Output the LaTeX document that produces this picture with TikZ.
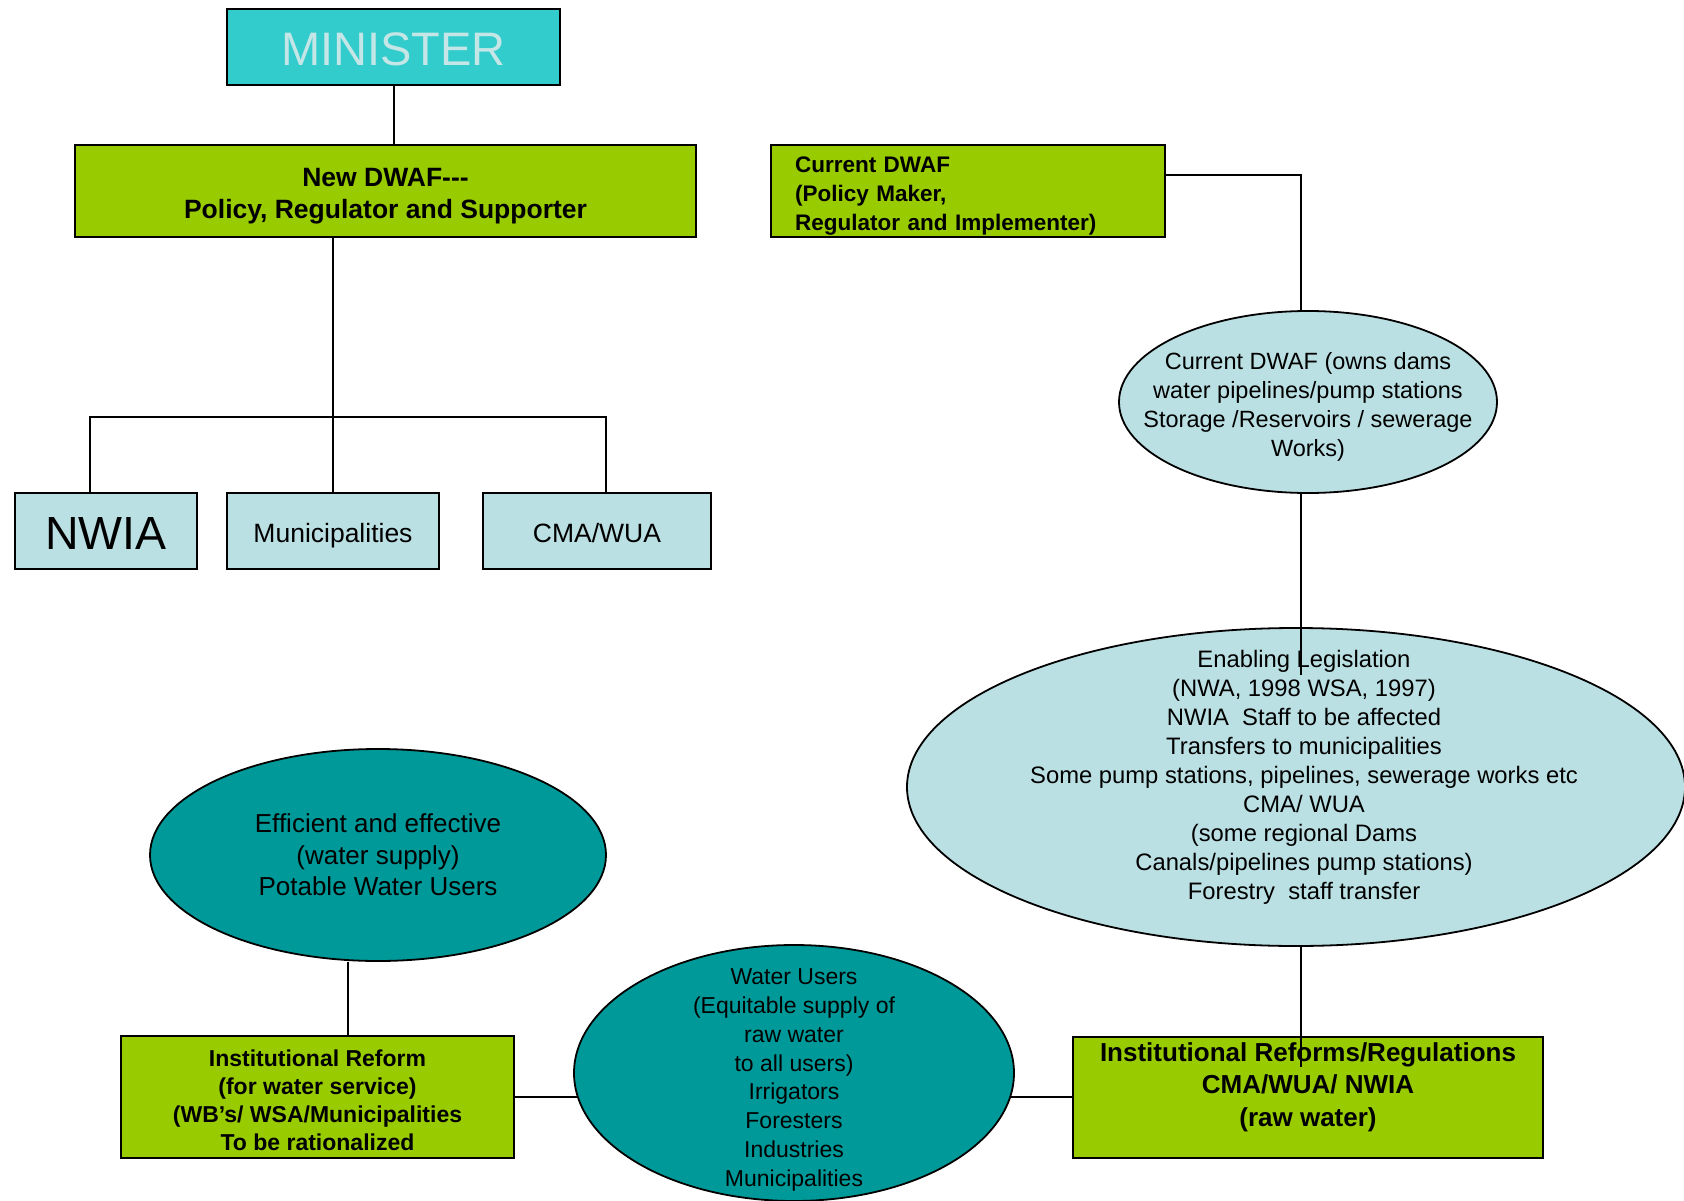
\documentclass[tikz,border=0pt]{standalone}
\usepackage{fontspec}
\setmainfont{Liberation Sans}
\usetikzlibrary{positioning,shapes.geometric}

\definecolor{minteal}{HTML}{33CCCC}
\definecolor{mintext}{HTML}{C4E6E6}
\definecolor{dwafgreen}{HTML}{99CC00}
\definecolor{paleblue}{HTML}{BBE0E3}
\definecolor{deepteal}{HTML}{009999}

\tikzset{
  box/.style={draw, line width=2pt, rectangle, inner sep=0pt, align=center},
  greenbox/.style={box, fill=dwafgreen},
  bluebox/.style={box, fill=paleblue, minimum height=76pt},
  oval/.style={draw, line width=1.8pt, ellipse, inner sep=0pt},
  ovaltext/.style={align=center, inner sep=0pt},
  link/.style={line width=2pt},
}

\begin{document}
\begin{tikzpicture}[x=1pt,y=-1pt]
  \useasboundingbox (0,0) rectangle (1684,1201);

  \node[box, fill=minteal, minimum width=333pt, minimum height=76pt,
        label={[ovaltext, text=mintext, yshift=-2pt, font=\fontsize{47}{50}\selectfont]center:MINISTER}]
        (minister) at (393.5,47) {};
  \node[greenbox, minimum width=621pt, minimum height=92pt,
        label={[ovaltext, yshift=-5pt, font=\bfseries\fontsize{26.5}{32}\selectfont]center:{New DWAF\mbox{-}\mbox{-}\mbox{-}\\Policy, Regulator and Supporter}}]
        (newdwaf) at (385.5,191) {};

  \node[bluebox, minimum width=182pt,
        label={[ovaltext, yshift=-3pt, font=\fontsize{46.5}{50}\selectfont]center:NWIA}] (nwia) at (106,531) {};
  \node[bluebox, minimum width=212pt,
        label={[ovaltext, yshift=-5pt, font=\fontsize{26.5}{30}\selectfont]center:Municipalities}] (munic) [right=28pt of nwia] {};
  \node[bluebox, minimum width=228pt,
        label={[ovaltext, yshift=-2pt, font=\fontsize{26.5}{30}\selectfont]center:CMA/WUA}] (cmawua) [right=42pt of munic] {};

  \node[greenbox, minimum width=394pt, minimum height=92pt,
        label={[ovaltext, align=left, text width=346pt, yshift=-5pt, font=\bfseries\fontsize{22.5}{29}\selectfont]center:{Current DWAF\\(Policy Maker,\\Regulator and Implementer)}}]
        (curdwaf) at (968,191) {};

  \node[oval, fill=paleblue, minimum width=378pt, minimum height=182pt,
        label={[ovaltext, yshift=-5pt, font=\fontsize{23.5}{29}\selectfont]center:{Current DWAF (owns dams\\water pipelines/pump stations\\Storage /Reservoirs / sewerage\\Works)}}]
        (owns) at (1308,402) {};

  \node[oval, fill=paleblue, minimum width=778pt, minimum height=318pt,
        label={[ovaltext, xshift=8pt, yshift=10pt, font=\fontsize{23.8}{29}\selectfont]center:{Enabling Legislation\\(NWA, 1998 WSA, 1997)\\NWIA\ \ Staff to be affected\\Transfers to municipalities\\Some pump stations, pipelines, sewerage works etc\\CMA/ WUA\\(some regional Dams\\Canals/pipelines pump stations)\\Forestry\ \ staff transfer}}]
        (legis) at (1296,787) {};

  \node[oval, fill=deepteal, minimum width=456pt, minimum height=212pt,
        label={[ovaltext, font=\fontsize{26}{31.5}\selectfont]center:{Efficient and effective\\(water supply)\\Potable Water Users}}]
        (efficient) at (378,855) {};

  \node[greenbox, minimum width=393pt, minimum height=122pt,
        label={[ovaltext, yshift=-3pt, font=\bfseries\fontsize{23}{28}\selectfont]center:{Institutional Reform\\(for water service)\\(WB’s/ WSA/Municipalities\\To be rationalized}}]
        (irleft) at (317.5,1097) {};

  \node[oval, fill=deepteal, minimum width=440pt, minimum height=256pt,
        label={[ovaltext, yshift=-7pt, font=\fontsize{23}{28.8}\selectfont]center:{Water Users\\(Equitable supply of\\raw water\\to all users)\\Irrigators\\Foresters\\Industries\\Municipalities}}]
        (wu) at (794,1073) {};

  \node[greenbox, minimum width=470pt, minimum height=121pt,
        label={[ovaltext, yshift=10pt, font=\bfseries\fontsize{26}{32.5}\selectfont]center:{Institutional Reforms/Regulations\\CMA/WUA/ NWIA\\(raw water)}}]
        (irright) at (1308,1097) {};

  % connectors
  \coordinate (bus) at (333,417);
  \coordinate (ownsend) at (1301,675);
  \coordinate (legisend) at (1301,1067);

  \draw[link] (minister.south) -- (minister.south |- newdwaf.north);
  \draw[link] (newdwaf.south -| munic.north) -- (munic.north);
  \draw[link] ([xshift=-16pt]nwia.north) |- (bus) -| ([xshift=9pt]cmawua.north);
  \draw[link] ([yshift=16pt]curdwaf.east) -| ([xshift=-7pt]owns.north);
  \draw[link] ([xshift=-7pt]owns.south) -- (ownsend);
  \draw[link] (legis.south -| legisend) -- (legisend);
  \draw[link] ([xshift=-30pt]efficient.south) -- ([xshift=-30pt]efficient.south |- irleft.north);
  \draw[link] (irleft.east) -- (irleft.east -| wu.186);
  \draw[link] (irright.west) -- (irright.west -| wu.354);

\end{tikzpicture}
\end{document}
